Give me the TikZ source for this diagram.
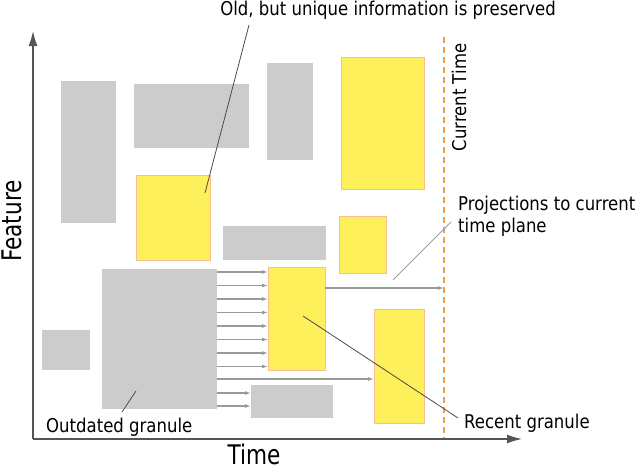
\documentclass[tikz,border=0pt]{standalone}
\usepackage{fontspec}
\setmainfont[FakeStretch=0.87]{DejaVu Sans}
\newfontfamily\bigfont[FakeStretch=0.8]{DejaVu Sans}
\usetikzlibrary{arrows.meta}
\definecolor{grayfill}{HTML}{CCCCCC}
\definecolor{yfill}{HTML}{FEF05A}
\definecolor{yedge}{HTML}{F8BE92}
\definecolor{nowc}{HTML}{F0A04A}
\definecolor{projc}{HTML}{9A9A9A}
\definecolor{axisc}{HTML}{555555}
\definecolor{leadc}{HTML}{4A4A4A}
\tikzset{
  gbox/.style={rectangle, fill=grayfill, draw=none, inner sep=0pt, outer sep=0pt},
  ybox/.style={rectangle, fill=yfill, draw=yedge, line width=1pt, inner sep=0pt, outer sep=0pt},
  proj/.style={draw=projc, line width=1.1pt, -{Latex[length=6pt,width=4pt]}},
  axis/.style={draw=axisc, line width=1.4pt, -{Latex[length=15pt,width=9pt]}},
  leader/.style={draw=leadc, line width=0.8pt},
  lbl/.style={font=\fontsize{19}{22}\selectfont, inner sep=0pt, text=black},
  biglbl/.style={font=\bigfont\fontsize{27}{32}\selectfont, inner sep=0pt, text=black, text depth=0pt},
  nowline/.style={draw=nowc, line width=1.6pt, dash pattern=on 6pt off 4pt}
}
\begin{document}
\begin{tikzpicture}[x=1pt,y=-1pt]
\useasboundingbox (0,0) rectangle (640,471);
% gray granules
\node[gbox, minimum width=55pt, minimum height=142pt] (g1) at (88.5,152) {};
\node[gbox, minimum width=115pt, minimum height=64pt] (g2) at (191.5,116) {};
\node[gbox, minimum width=46pt, minimum height=97pt] (g3) at (290,111.5) {};
\node[gbox, minimum width=103pt, minimum height=34pt] (g4) at (274.5,243) {};
\node[gbox, minimum width=115pt, minimum height=140pt] (g5) at (159.5,339) {};
\node[gbox, minimum width=48pt, minimum height=40pt] (g6) at (66,350) {};
\node[gbox, minimum width=82pt, minimum height=33pt] (g7) at (292,401.5) {};
% yellow granules
\node[ybox, minimum width=74pt, minimum height=85pt] (yA) at (173,217.5) {};
\node[ybox, minimum width=83pt, minimum height=132pt] (yB) at (382.5,123) {};
\node[ybox, minimum width=47pt, minimum height=57pt] (yC) at (362.5,244.5) {};
\node[ybox, minimum width=57pt, minimum height=103pt] (yD) at (296.5,318.5) {};
\node[ybox, minimum width=50pt, minimum height=114pt] (yE) at (399,366) {};
% current time line
\coordinate (nowtop) at (444,37);
\coordinate (nowbot) at (444,439);
\draw[nowline] (nowtop) -- (nowbot);
% axes
\coordinate (O) at (33,439);
\coordinate (ytop) at (33,31);
\coordinate (xend) at (522,439);
\draw[axis] (O) -- (ytop);
\draw[axis] (O) -- (xend);
% projections
\foreach \yy in {272,285.5,299,312.5,326,339.5,353,366.5}{
  \draw[proj] (g5.east |- 0,\yy) -- (yD.west |- 0,\yy);
}
\draw[proj] (g5.east |- 0,379) -- (yE.west |- 0,379);
\draw[proj] (g5.east |- 0,393) -- (g7.west |- 0,393);
\draw[proj] (g5.east |- 0,406) -- (g7.west |- 0,406);
\draw[proj] (yD.east |- 0,288) -- (nowtop |- 0,288);
% labels
\node[lbl, anchor=base] (oldlbl) at (388,16) {Old, but unique information is preserved};
\node[lbl, rotate=90, anchor=base] (curlbl) at (466,97.5) {Current Time};
\node[lbl, anchor=north west, align=left] (projlbl) at (458,196) {Projections to current\\time plane};
\node[lbl, anchor=base west] (reclbl) at (464,428) {Recent granule};
\node[lbl, anchor=base west] (outlbl) at (46,432) {Outdated granule};
\node[biglbl, rotate=90, anchor=base] (featlbl) at (21,221) {Feature};
\node[biglbl, anchor=base] (timelbl) at (254,464) {Time};
% leaders
\coordinate (oldtip) at (205,193);
\coordinate (oldfoot) at (249,25);
\draw[leader] (oldfoot) -- (oldtip);
\coordinate (projtip) at (393,280);
\coordinate (projfoot) at (451,222);
\draw[draw=projc, line width=0.8pt] (projfoot) -- (projtip);
\coordinate (rectip) at (303,316);
\coordinate (recfoot) at (458,418);
\draw[leader] (rectip) -- (recfoot);
\coordinate (outtip) at (136,391);
\coordinate (outfoot) at (122,412);
\draw[leader] (outtip) -- (outfoot);
\end{tikzpicture}
\end{document}
